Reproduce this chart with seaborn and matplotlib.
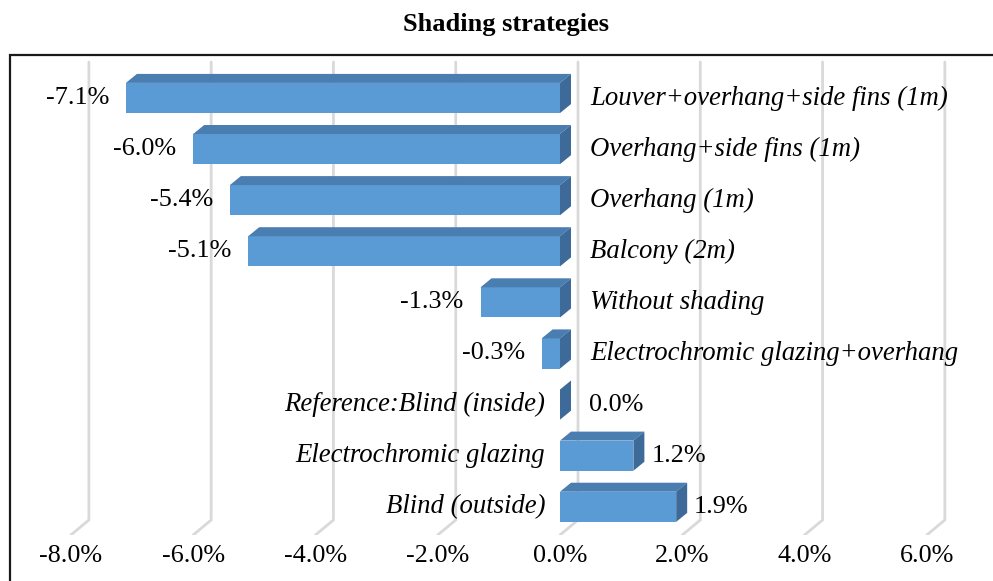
"""Shading strategies: horizontal bars drawn with a faux-3D look (Excel style)."""

import matplotlib
matplotlib.use("Agg")
import matplotlib.pyplot as plt
from matplotlib.patches import Polygon, Rectangle
from matplotlib.ticker import FuncFormatter
import pandas as pd
import seaborn as sns

# data (in %)
strategies = [
    "Louver+overhang+side fins (1m)",
    "Overhang+side fins (1m)",
    "Overhang (1m)",
    "Balcony (2m)",
    "Without shading",
    "Electrochromic glazing+overhang",
    "Reference:Blind (inside)",
    "Electrochromic glazing",
    "Blind (outside)",
]
change_pct = [-7.1, -6.0, -5.4, -5.1, -1.3, -0.3, 0.0, 1.2, 1.9]
xticks = [-8, -6, -4, -2, 0, 2, 4, 6]

FRONT = "#5B9BD5"
TOP = "#4A7DB0"
SIDE = "#3D6A98"
GRID = "#D9D9D9"
SERIF = ["Liberation Serif", "DejaVu Serif"]

sns.set_style("white")
plt.rcParams["font.family"] = SERIF
plt.rcParams["text.color"] = "black"
plt.rcParams["xtick.color"] = "black"

W, H = 993, 581
fig = plt.figure(figsize=(W / 100, H / 100), dpi=100)

# axes = front plane of the 3D box, placed in pixel coords
left, right, top, bottom = 10, 993, 55, 535
ax = fig.add_axes([left / W, 1 - bottom / H, (right - left) / W, (bottom - top) / H])

df = pd.DataFrame({"strategy": strategies, "change": change_pct})
sns.barplot(data=df, x="change", y="strategy", orient="h", color=FRONT,
            saturation=1, width=0.59, linewidth=0, ax=ax, zorder=3)

ax.set_xlim(-8.996, 7.082)
ax.set_ylim(8.552, -0.841)
for s in ax.spines.values():
    s.set_visible(False)
ax.set_xlabel("")
ax.set_ylabel("")
ax.set_yticks([])
ax.set_xticks(xticks)
ax.xaxis.set_major_formatter(FuncFormatter(lambda v, _: f"{v:.1f}%"))
ax.tick_params(axis="x", length=0, pad=7, labelsize=18.8, labelcolor="black")

# pixel -> data conversion
sx = ax.bbox.width / (ax.get_xlim()[1] - ax.get_xlim()[0])
sy = ax.bbox.height / (ax.get_ylim()[0] - ax.get_ylim()[1])

# back-wall gridlines with the floor diagonal
wall_dx, wall_dy = 18 / sx, 15 / sy
y_top_back = ax.get_ylim()[1] + 7 / sy
y_floor = ax.get_ylim()[0]
for t in xticks:
    ax.plot([t + wall_dx, t + wall_dx, t], [y_top_back, y_floor - wall_dy, y_floor],
            color=GRID, lw=2, zorder=1, solid_joinstyle="miter")

# top and side faces of each bar
bar_dx, bar_dy = 11 / sx, 9 / sy
for p in list(ax.patches):
    x0, x1 = p.get_x(), p.get_x() + p.get_width()
    lo, hi = min(x0, x1), max(x0, x1)
    yt, yb = p.get_y(), p.get_y() + p.get_height()
    ax.add_patch(Polygon([(lo, yt), (lo + bar_dx, yt - bar_dy), (hi + bar_dx, yt - bar_dy), (hi, yt)],
                         closed=True, facecolor=TOP, edgecolor="none", zorder=3))
    ax.add_patch(Polygon([(hi, yt), (hi + bar_dx, yt - bar_dy), (hi + bar_dx, yb - bar_dy), (hi, yb)],
                         closed=True, facecolor=SIDE, edgecolor="none", zorder=3))

# value labels and category labels
for i, (name, v) in enumerate(zip(strategies, change_pct)):
    if v < 0:
        ax.annotate(f"{v:.1f}%", (v, i), xytext=(-17 * 0.72, 0), textcoords="offset points",
                    ha="right", va="center", fontsize=18.8)
        ax.annotate(name, (0, i), xytext=(30 * 0.72, 0), textcoords="offset points",
                    ha="left", va="center", fontsize=19.3, style="italic")
    else:
        off = 29 if v == 0 else 18
        ax.annotate(f"{v:.1f}%", (v, i), xytext=(off * 0.72, 0), textcoords="offset points",
                    ha="left", va="center", fontsize=18.8)
        ax.annotate(name, (0, i), xytext=(-15 * 0.72, 0), textcoords="offset points",
                    ha="right", va="center", fontsize=19.3, style="italic")

# chart frame (cut off at right/bottom like the source)
fig.patches.append(Rectangle((left / W, -0.1), 1.2, 1 - top / H + 0.1, transform=fig.transFigure,
                             fill=False, edgecolor="#1a1a1a", lw=1.6, zorder=0))

fig.text(506 / W, 1 - 24 / H, "Shading strategies", ha="center", va="center",
         fontsize=19, fontweight="bold")

fig.savefig("out.png", dpi=100)
